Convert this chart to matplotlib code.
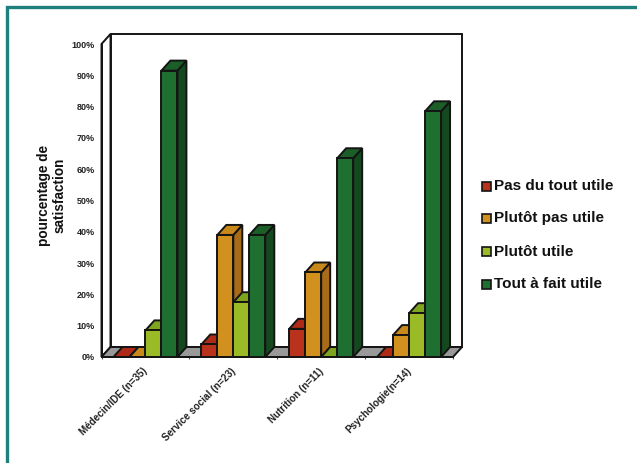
import matplotlib
matplotlib.use("Agg")
import matplotlib.pyplot as plt
from matplotlib.lines import Line2D
from matplotlib.patches import Polygon, Rectangle

plt.rcParams['font.family'] = ['Liberation Sans', 'DejaVu Sans']

categories = ["Médecin/IDE (n=35)", "Service social (n=23)", "Nutrition (n=11)", "Psychologie(n=14)"]
series_names = ["Pas du tout utile", "Plutôt pas utile", "Plutôt utile", "Tout à fait utile"]
pas_du_tout = [0, 4, 9, 0]
plutot_pas = [0, 39, 27, 7]
plutot_utile = [8.5, 17.5, 0, 14]
tout_a_fait = [91.5, 39, 63.5, 78.5]
y_ticks = list(range(0, 101, 10))

face = ['#B8321C', '#D2901E', '#9ABB26', '#1F7030']
top = ['#B02A18', '#C8881A', '#7FA51E', '#1B5E28']
side = ['#8F2814', '#A86C18', '#6E8C1A', '#14481F']
W, H = 637, 463
L, R, T, B = 101.5, 453, 44, 357
dpx, dpy = 9, 10

fig = plt.figure(figsize=(W / 100, H / 100), dpi=100, facecolor='white')
fig.add_artist(Line2D([7 / W, 7 / W, 1], [0, 1 - 7 / H, 1 - 7 / H], transform=fig.transFigure,
                      color='#1F7F7C', lw=2.4, solid_joinstyle='miter'))
ax = fig.add_axes([L / W, 1 - B / H, (R - L) / W, (B - T) / H])
ax.set_xlim(0, 4)
ax.set_ylim(0, 100)
ax.patch.set_visible(False)
dx = dpx / ((R - L) / 4)
dy = dpy / ((B - T) / 100)
lw = 1.4
ec = '#141414'

def poly(pts, fc, z):
    ax.add_patch(Polygon(pts, closed=True, fc=fc, ec=ec, lw=lw, clip_on=False, zorder=z, joinstyle='miter'))

# walls and floor
poly([(0, 0), (dx, dy), (dx, 100 + dy), (0, 100)], 'white', 1)
poly([(dx, dy), (4 + dx, dy), (4 + dx, 100 + dy), (dx, 100 + dy)], 'white', 1)
poly([(0, 0), (4, 0), (4 + dx, dy), (dx, dy)], '#999999', 1.5)

bw = 16 / ((R - L) / 4)
series = [pas_du_tout, plutot_pas, plutot_utile, tout_a_fait]
for c in range(len(categories)):
    for s, vals in enumerate(series):
        x0 = c + 0.5 + (s - 2) * bw
        x1 = x0 + bw
        v = vals[c]
        z = 2 + c * 10 + s
        if v > 0:
            poly([(x1, 0), (x1 + dx, dy), (x1 + dx, v + dy), (x1, v)], side[s], z)
        poly([(x0, v), (x1, v), (x1 + dx, v + dy), (x0 + dx, v + dy)], top[s], z)
        if v > 0:
            ax.bar(x0, v, width=bw, align='edge', color=face[s], edgecolor=ec, lw=lw, zorder=z + 0.5, clip_on=False)

for sp in ['top', 'right']:
    ax.spines[sp].set_visible(False)
for sp in ['left', 'bottom']:
    ax.spines[sp].set_linewidth(lw)
    ax.spines[sp].set_color(ec)
    ax.spines[sp].set_zorder(100)

ax.set_yticks(y_ticks)
ax.set_yticklabels([f"{v}%" for v in y_ticks], fontsize=6.5, fontweight='bold', color='#222222')
ax.tick_params(axis='y', length=0, pad=5)
ax.set_xticks(range(0, 5))
ax.set_xticklabels([])
ax.tick_params(axis='x', length=1.3, width=0.8, color='#555555')
for i, lab in enumerate(categories):
    ax.annotate(lab, xy=(i + 0.5, 0), xycoords='data', xytext=(-3, -9), textcoords='offset pixels',
                rotation=45, ha='right', va='top', rotation_mode='anchor',
                fontsize=7.1, fontweight='bold', color='#222222', annotation_clip=False)

fig.text(52 / W, 1 - 195 / H, "pourcentage de\nsatisfaction", rotation=90, ha='center', va='center',
         fontsize=9.8, fontweight='bold', color='#111111', linespacing=1.15, multialignment='center')

ys = [186, 218.5, 251.5, 284.5]
for name, fc, y in zip(series_names, face, ys):
    fig.add_artist(Rectangle((482 / W, 1 - (y + 4.5) / H), 9 / W, 9 / H, transform=fig.transFigure,
                             fc=fc, ec=ec, lw=1.2))
    fig.text(494 / W, 1 - y / H, name, ha='left', va='center', fontsize=11,
             fontweight='bold', color='#111111')

fig.savefig('out.png', dpi=100, facecolor='white')
